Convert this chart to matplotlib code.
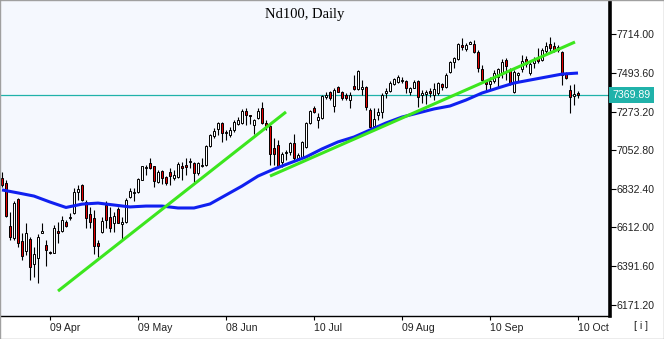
"""Daily Nd100 candles with the 50-day moving average and two trend lines."""

import matplotlib
matplotlib.use('Agg')
from matplotlib import pyplot
from matplotlib import transforms
from matplotlib.patches import Rectangle
import numpy

# Daily prices, oldest first.
opens = [
    6894, 6866, 6620, 6552, 6774, 6535, 6477, 6546, 6403, 6438,
    6583, 6512, 6472, 6466, 6592, 6592, 6643, 6668, 6694, 6814,
    6854, 6757, 6689, 6666, 6523, 6586, 6740, 6672, 6637, 6717,
    6632, 6643, 6786, 6809, 6814, 6882, 6951, 6980, 6962, 6871,
    6934, 6900, 6928, 6894, 6900, 6962, 6968, 6985, 6980, 6923,
    6962, 6968, 7077, 7134, 7174, 7208, 7151, 7139, 7168, 7202,
    7208, 7276, 7254, 7197, 7236, 7294, 7208, 7191, 7065, 7082,
    6985, 7037, 7042, 7094, 7008, 7014, 7071, 7208, 7294, 7225,
    7236, 7356, 7385, 7305, 7413, 7385, 7368, 7339, 7419, 7402,
    7402, 7413, 7282, 7191, 7254, 7271, 7379, 7390, 7430, 7442,
    7450, 7448, 7385, 7408, 7448, 7368, 7373, 7390, 7368, 7379,
    7430, 7413, 7499, 7556, 7573, 7653, 7630, 7659, 7659, 7613,
    7516, 7442, 7430, 7447, 7470, 7487, 7567, 7510, 7385, 7482,
    7516, 7573, 7493, 7550, 7579, 7567, 7619, 7659, 7647, 7624,
    7613, 7487, 7396, 7362, 7379,
]
highs = [
    6928, 6883, 6700, 6763, 6780, 6580, 6637, 6557, 6500, 6575,
    6637, 6540, 6478, 6626, 6643, 6677, 6654, 6694, 6837, 6854,
    6860, 6769, 6729, 6712, 6540, 6672, 6763, 6729, 6700, 6729,
    6672, 6780, 6837, 6837, 6894, 6965, 6968, 7008, 6965, 6940,
    6940, 6905, 6951, 6940, 6985, 6985, 7008, 7008, 6985, 6985,
    7008, 7082, 7145, 7179, 7214, 7214, 7168, 7185, 7225, 7242,
    7288, 7294, 7256, 7231, 7294, 7328, 7225, 7202, 7122, 7111,
    7042, 7054, 7100, 7145, 7036, 7105, 7214, 7282, 7305, 7265,
    7368, 7385, 7390, 7408, 7419, 7390, 7379, 7385, 7482, 7510,
    7453, 7419, 7294, 7294, 7294, 7379, 7408, 7448, 7465, 7482,
    7470, 7453, 7413, 7453, 7453, 7396, 7396, 7408, 7436, 7442,
    7436, 7493, 7562, 7584, 7664, 7693, 7664, 7676, 7682, 7624,
    7539, 7453, 7470, 7510, 7522, 7573, 7579, 7522, 7510, 7499,
    7596, 7590, 7556, 7584, 7636, 7636, 7670, 7699, 7670, 7653,
    7619, 7499, 7425, 7430, 7390,
]
lows = [
    6843, 6672, 6540, 6540, 6500, 6426, 6455, 6312, 6329, 6295,
    6580, 6392, 6460, 6466, 6523, 6586, 6615, 6654, 6689, 6769,
    6763, 6609, 6609, 6460, 6443, 6580, 6609, 6586, 6586, 6637,
    6540, 6637, 6780, 6763, 6809, 6880, 6911, 6948, 6843, 6866,
    6860, 6854, 6854, 6883, 6894, 6883, 6911, 6951, 6871, 6911,
    6957, 6962, 7071, 7122, 7139, 7099, 7111, 7128, 7157, 7197,
    7202, 7197, 7202, 7145, 7231, 7202, 7168, 6968, 6968, 6951,
    6957, 6997, 7025, 6997, 7002, 7008, 7065, 7202, 7265, 7179,
    7231, 7345, 7339, 7271, 7382, 7339, 7339, 7294, 7396, 7396,
    7368, 7282, 7179, 7185, 7225, 7236, 7351, 7385, 7425, 7436,
    7436, 7379, 7368, 7405, 7299, 7322, 7316, 7356, 7339, 7368,
    7396, 7408, 7493, 7522, 7567, 7624, 7619, 7656, 7607, 7499,
    7436, 7385, 7396, 7436, 7413, 7465, 7453, 7425, 7379, 7442,
    7499, 7527, 7482, 7522, 7550, 7562, 7601, 7619, 7613, 7613,
    7425, 7459, 7265, 7311, 7351,
]
closes = [
    6854, 6677, 6557, 6751, 6523, 6449, 6580, 6386, 6460, 6557,
    6589, 6483, 6466, 6609, 6580, 6654, 6620, 6672, 6814, 6831,
    6769, 6666, 6643, 6506, 6506, 6649, 6654, 6609, 6677, 6640,
    6643, 6769, 6820, 6814, 6888, 6960, 6957, 6951, 6877, 6928,
    6894, 6866, 6905, 6911, 6974, 6951, 6957, 6991, 6923, 6980,
    6968, 7077, 7139, 7162, 7208, 7151, 7156, 7168, 7214, 7225,
    7276, 7254, 7250, 7225, 7276, 7208, 7185, 7031, 7031, 6962,
    7031, 7042, 7094, 7008, 7025, 7100, 7208, 7276, 7271, 7242,
    7362, 7368, 7351, 7396, 7385, 7351, 7351, 7368, 7402, 7504,
    7413, 7299, 7185, 7231, 7271, 7368, 7390, 7436, 7459, 7470,
    7455, 7408, 7408, 7442, 7356, 7379, 7385, 7379, 7402, 7436,
    7413, 7482, 7556, 7579, 7659, 7641, 7653, 7670, 7613, 7522,
    7453, 7430, 7448, 7493, 7516, 7556, 7533, 7436, 7499, 7493,
    7562, 7544, 7544, 7573, 7562, 7624, 7647, 7636, 7619, 7641,
    7482, 7465, 7356, 7373, 7369.89,
]

# 50-day moving average, sampled every fourth session.
ma_idx = list(range(0, 145, 4))
ma_values = [
    6826, 6809, 6791, 6757, 6726, 6745, 6751, 6740, 6729, 6734,
    6734, 6723, 6723, 6746, 6797, 6848, 6905, 6945, 6980, 7014,
    7060, 7100, 7128, 7168, 7208, 7242, 7265, 7288, 7305, 7339,
    7379, 7408, 7436, 7453, 7470, 7487, 7493,
]

# Hand-drawn trend lines: (start index, end index), (start price, end price).
trend_lines = [
    ((14, 71), (6249, 7271)),
    ((67, 143.25), (6905, 7670)),
]

tick_idx = [12, 34, 56, 78, 100, 122, 144]
tick_labels = ['09 Apr', '09 May', '08 Jun', '10 Jul', '09 Aug', '10 Sep',
               '10 Oct']
price_ticks = [6171.20, 6391.60, 6612.00, 6832.40, 7052.80, 7273.20,
               7493.60, 7714.00]

up_color = 'white'
down_color = '#E00000'
teal = '#20B2AA'

fig = pyplot.figure(figsize=(6.64, 3.39), dpi=100)
fig.patch.set_facecolor('white')
ax = fig.add_axes([0.0, 23 / 339, 610 / 664, 316 / 339])
ax.set_facecolor('#F5F8FE')

n = len(closes)
idx = numpy.arange(n)

# Candles: wicks first, then bodies on top.
ax.vlines(idx, lows, highs, color='black', linewidth=0.8, zorder=2)
body_w = 0.6
for i in range(n):
    o, c = opens[i], closes[i]
    bottom = min(o, c)
    height = max(abs(c - o), 1.5)
    color = up_color if c >= o else down_color
    ax.add_patch(Rectangle((i - body_w / 2, bottom), body_w, height,
                           facecolor=color, edgecolor='black',
                           linewidth=0.7, zorder=3))

ax.plot(ma_idx, ma_values, color='#1020F0', linewidth=2.2, zorder=4,
        solid_capstyle='butt')
for xs, ys in trend_lines:
    ax.plot(xs, ys, color='#3CE61E', linewidth=2.2, zorder=5,
            solid_capstyle='butt')

# Last price line and its marker on the axis.
last = closes[-1]
ax.axhline(last, color=teal, linewidth=0.9, zorder=1)
trans = transforms.blended_transform_factory(ax.transAxes, ax.transData)
ax.text(1.004, last, f'{last:.2f}', transform=trans, ha='left',
        va='center', color='white', fontsize=7.6, family='Liberation Sans',
        bbox=dict(boxstyle='square,pad=0.28', fc=teal, ec='none'),
        clip_on=False, zorder=6)

ax.set_xlim(-0.5, 152)
ax.set_ylim(6106.7, 7909.7)

ax.yaxis.tick_right()
ax.set_yticks(price_ticks)
ax.set_yticklabels([f'{p:.2f}' for p in price_ticks])
ax.tick_params(axis='y', direction='out', length=4, width=0.8, pad=1,
               labelsize=7.6, labelcolor='#222222')
ax.set_xticks(tick_idx)
ax.set_xticklabels(tick_labels)
ax.tick_params(axis='x', direction='out', length=3, width=0.8, pad=2,
               labelsize=7.6, labelcolor='#222222')
for lab in ax.get_xticklabels() + ax.get_yticklabels():
    lab.set_family('Liberation Sans')
for lab in ax.get_xticklabels():
    lab.set_horizontalalignment('left')

ax.spines['top'].set_visible(False)
ax.spines['right'].set_linewidth(2.6)
ax.spines['left'].set_linewidth(1.2)
ax.spines['bottom'].set_linewidth(1.0)

ax.text(0.5, 0.955, 'Nd100, Daily', transform=ax.transAxes, ha='center',
        va='center', fontsize=10.5, family='Liberation Serif', color='black')
ax.text(202, 6680, 'MA(50)', ha='center', va='center', fontsize=9.5,
        family='Liberation Serif', weight='bold', color='#2030D0')

fig.text(641 / 664, 1 - 326 / 339, '[ i ]', ha='center', va='center',
         fontsize=7.6, family='Liberation Sans', color='#222222')
fig.add_artist(Rectangle((0, 0), 1, 1, transform=fig.transFigure,
                         fill=False, edgecolor='#A0A0A0', linewidth=1.0))

fig.savefig('out.png', dpi=100)
